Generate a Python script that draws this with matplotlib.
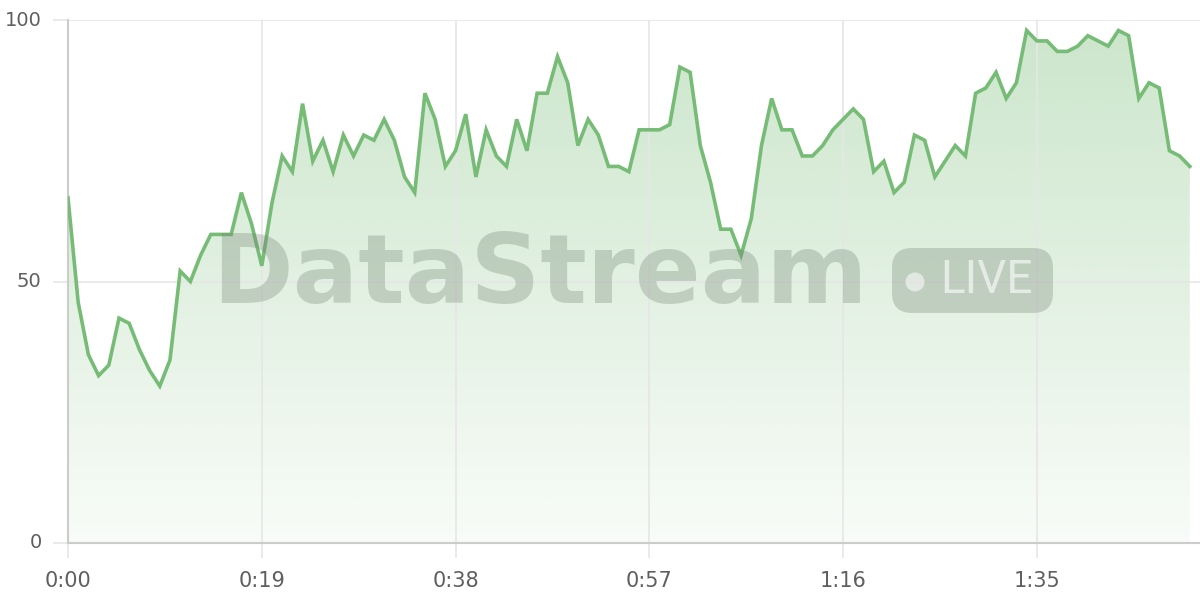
import numpy as np
import matplotlib
matplotlib.use("Agg")
import matplotlib.pyplot as plt
from matplotlib.patches import FancyBboxPatch, Circle

# Stream values, one sample per second
seconds = list(range(111))
values = [66, 46, 36, 32, 34, 43, 42, 37, 33, 30,
          35, 52, 50, 55, 59, 59, 59, 67, 61, 53,
          65, 74, 71, 84, 73, 77, 71, 78, 74, 78,
          77, 81, 77, 70, 67, 86, 81, 72, 75, 82,
          70, 79, 74, 72, 81, 75, 86, 86, 93, 88,
          76, 81, 78, 72, 72, 71, 79, 79, 79, 80,
          91, 90, 76, 69, 60, 60, 55, 62, 76, 85,
          79, 79, 74, 74, 76, 79, 81, 83, 81, 71,
          73, 67, 69, 78, 77, 70, 73, 76, 74, 86,
          87, 90, 85, 88, 98, 96, 96, 94, 94, 95,
          97, 96, 95, 98, 97, 85, 88, 87, 75, 74,
          72]
tick_secs = [0, 19, 38, 57, 76, 95]
tick_labels = ["%d:%02d" % (s // 60, s % 60) for s in tick_secs]
y_ticks = [0, 50, 100]

line_color = "#77bc76"
grid_color = "#e6e6e6"
axis_color = "#cccccc"
text_color = "#5f5f5f"

plt.rcParams['font.family'] = ['DejaVu Sans']

fig = plt.figure(figsize=(12, 6), dpi=100)
ax = fig.add_axes([68 / 1200, 57 / 600, 1132 / 1200, 523 / 600])
ax.set_xlim(0, 111)
ax.set_ylim(0, 100)

# gradient fill under the line
poly = ax.fill_between(seconds, values, 0, color="none", lw=0)
grad = np.linspace(0.05, 0.38, 256).reshape(-1, 1)
rgba = np.zeros((256, 1, 4))
rgba[:, :, :3] = matplotlib.colors.to_rgb(line_color)
rgba[:, :, 3] = grad
img = ax.imshow(rgba, extent=[0, 110, 0, 100], origin="lower",
                aspect="auto", zorder=1, interpolation="bilinear")
img.set_clip_path(poly.get_paths()[0], transform=ax.transData)

ax.plot(seconds, values, color=line_color, lw=2.6, zorder=3,
        solid_joinstyle="miter")

# grid and axes
ax.set_xticks(tick_secs)
ax.set_xticklabels(tick_labels)
ax.set_yticks(y_ticks)
ax.grid(True, color=grid_color, lw=1.2, zorder=0)
for side in ["top", "right"]:
    ax.spines[side].set_visible(False)
for side in ["left", "bottom"]:
    ax.spines[side].set_color(axis_color)
    ax.spines[side].set_linewidth(1.5)
ax.tick_params(axis="both", length=11, width=1.2, color=grid_color,
               labelcolor=text_color, labelsize=15)
ax.tick_params(axis="x", pad=9)
ax.tick_params(axis="y", pad=8, labelsize=14)
for lab in ax.get_yticklabels():
    lab.set_verticalalignment("center")

# watermark
wm = "#6f806f"
fig.text(540 / 1200, 1 - 276 / 600, "DataStream", ha="center", va="center",
         fontsize=70, fontweight="bold", color=wm, alpha=0.3, zorder=5)
badge = FancyBboxPatch((8.92, 2.87), 1.61, 0.65,
                       boxstyle="round,pad=0,rounding_size=0.2",
                       transform=fig.dpi_scale_trans, fc=wm, ec="none",
                       alpha=0.3, zorder=5)
fig.patches.append(badge)
dot = Circle((9.15, 3.18), 0.095, transform=fig.dpi_scale_trans,
             fc="white", ec="none", alpha=0.55, zorder=6)
fig.patches.append(dot)
fig.text(986 / 1200, 1 - 280 / 600, "LIVE", ha="center", va="center",
         fontsize=33, family="Roboto", color="white", alpha=0.6, zorder=6)

fig.savefig("out.png", dpi=100)
